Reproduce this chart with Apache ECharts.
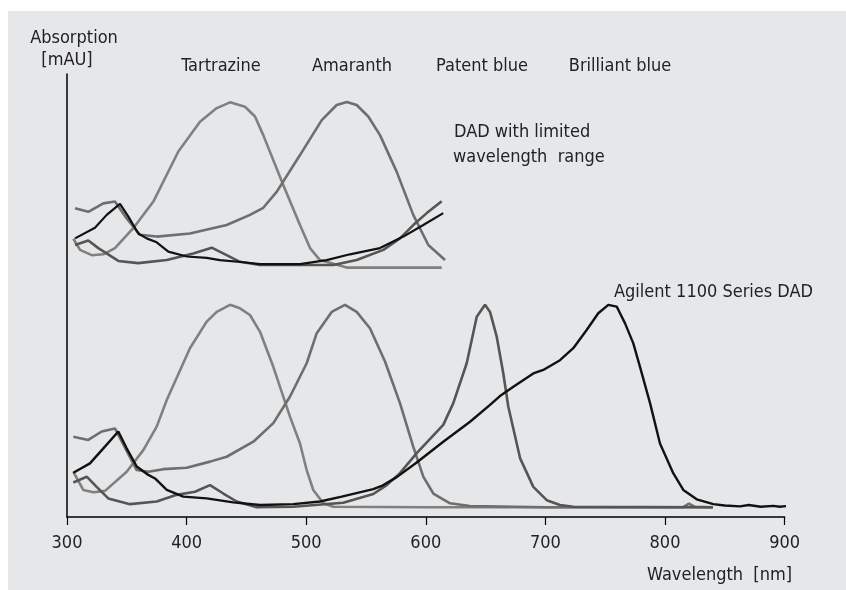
<!DOCTYPE html>
<html>
<head>
<meta charset="utf-8">
<script src="https://cdn.jsdelivr.net/npm/echarts@6/dist/echarts.min.js"></script>
<style>html,body{margin:0;padding:0;background:#fff}#c{width:846px;height:590px}</style>
</head>
<body>
<div id="c"></div>
<script>
// X axis tick labels (nm)
const xTicks = [300, 400, 500, 600, 700, 800, 900];
const dyeNames = ['Tartrazine', 'Amaranth', 'Patent blue', 'Brilliant blue'];

// Agilent 1100 Series DAD (full range) — [wavelength nm, absorption a.u.]
const tartrazineFull = [[305.3,10.2],[313.6,6.1],[322.0,5.6],[331.8,5.9],[349.9,10.2],[363.8,15.1],[375.0,20.4],[383.4,26.4],[402.8,38.1],[416.8,44.1],[425.2,46.3],[436.3,47.9],[444.6,47.1],[453.0,45.6],[461.4,41.8],[472.5,33.9],[486.5,22.6],[494.8,16.6],[500.4,10.6],[505.9,6.1],[514.3,3.1],[522.7,2.3],[600,2.2],[700,2.2],[840,2.2]];
const amaranthFull = [[305.3,18.1],[317.8,17.4],[329.0,19.3],[340.1,20.0],[358.3,10.6],[368.0,10.2],[380.5,10.8],[400.1,11.1],[419.6,12.5],[433.5,13.6],[455.8,17.0],[472.5,21.2],[486.5,27.2],[500.4,34.7],[508.8,41.5],[521.3,46.3],[532.4,47.9],[542.2,46.3],[553.3,42.6],[565.9,35.1],[578.4,25.7],[589.5,15.9],[597.9,9.1],[606.3,5.3],[620.2,3.1],[636.9,2.5],[700,2.2],[815,2.2],[820,3.0],[825,2.3],[840,2.2]];
const patentFull = [[305.3,7.8],[316.5,9.1],[324.8,6.8],[334.5,4.2],[352.7,2.9],[375.0,3.5],[391.7,5.0],[407.0,5.7],[419.6,7.2],[430.7,5.3],[441.9,3.5],[458.6,2.2],[489.2,2.3],[531.0,3.2],[556.1,5.2],[567.3,7.2],[578.4,9.9],[592.4,14.4],[614.6,20.8],[623.0,25.7],[634.2,34.7],[642.6,45.2],[649.5,47.9],[653.7,46.3],[659.3,40.7],[664.8,32.4],[669.0,24.9],[678.8,13.3],[689.9,6.8],[701.1,3.8],[712.2,2.7],[723.3,2.3],[840,2.2]];
const brilliantFull = [[305.3,10.0],[319.2,12.1],[330.4,15.5],[342.9,19.3],[349.9,15.5],[358.3,11.4],[368.0,9.5],[373.6,8.7],[383.4,6.1],[397.2,4.6],[416.8,4.2],[439.0,3.3],[461.4,2.7],[489.2,2.9],[511.5,3.5],[529.7,4.6],[556.1,6.3],[563.1,7.0],[575.7,9.0],[592.4,12.3],[614.6,17.0],[637.0,21.5],[653.7,25.3],[662.0,27.3],[673.2,29.4],[689.9,32.4],[698.2,33.2],[712.2,35.4],[723.3,38.1],[734.5,42.2],[744.2,46.0],[752.6,47.9],[759.6,47.5],[766.6,43.7],[773.5,39.2],[779.1,33.9],[787.5,25.7],[795.8,16.6],[806.9,9.9],[815.3,6.1],[826.5,4.0],[840.4,2.9],[850,2.6],[862.7,2.4],[870,2.7],[880,2.3],[890.6,2.5],[896,2.3],[902.8,2.5]];

// DAD with limited wavelength range (drawn offset above)
const tartrazineLim = [[305.3,62.8],[310.9,60.3],[320.7,59.1],[330.4,59.3],[340.1,60.7],[355.4,65.2],[372.2,71.2],[393.1,82.5],[411.2,89.2],[425.2,92.3],[436.3,93.6],[448.8,92.6],[457.2,90.4],[464.1,86.2],[480.9,74.9],[494.8,65.9],[503.2,60.7],[511.5,58.0],[533.9,56.3],[613.3,56.3]];
const amaranthLim = [[306.7,69.7],[317.8,68.9],[330.4,70.8],[340.1,71.2],[349.9,67.4],[361.0,63.7],[375.0,63.3],[402.8,64.0],[433.5,65.9],[453.0,68.2],[464.1,69.8],[475.3,73.4],[494.8,81.7],[513.0,89.6],[525.5,93.0],[533.9,93.7],[542.2,93.0],[551.9,90.4],[561.7,86.2],[575.7,77.9],[589.5,68.2],[602.1,61.4],[616.1,58.0]];
const patentLim = [[306.7,61.4],[317.8,62.4],[326.2,60.7],[342.9,57.8],[359.6,57.3],[383.4,58.0],[405.6,59.5],[421.0,60.8],[433.5,59.1],[444.6,57.6],[461.4,56.9],[494.8,56.9],[522.7,56.9],[542.2,58.0],[564.5,60.3],[578.4,62.9],[589.5,65.9],[600.8,68.6],[613.3,71.3]];
const brilliantLim = [[306.7,62.9],[323.4,65.3],[333.2,68.2],[344.3,70.7],[351.3,67.8],[359.6,64.0],[366.6,62.9],[375.0,62.0],[384.7,59.9],[400.1,58.8],[416.8,58.5],[427.9,58.0],[447.4,57.5],[461.4,57.1],[475.3,57.1],[494.8,57.1],[517.1,58.0],[536.6,59.3],[561.7,60.7],[581.2,63.3],[597.9,65.9],[614.6,68.6]];

const FONT = '"Liberation Sans Narrow", "DejaVu Sans Condensed", "Liberation Sans", sans-serif';
const FS = 18;
const TXT = '#222';
const colTar = '#808080', colAma = '#6e6e6e', colPat = '#555555', colBri = '#111111';

function line(name, data, color, w) {
  return { name, type: 'line', data, symbol: 'none', smooth: false, clip: false,
    lineStyle: { color, width: w }, silent: true, animation: false };
}
function label(text, x, y, align) {
  return { type: 'text', x, y, style: { text, font: FS + 'px ' + FONT, fill: TXT, align: align || 'center', verticalAlign: 'middle' } };
}

const chart = echarts.init(document.getElementById('c'), null, { renderer: 'canvas' });
chart.setOption({
  backgroundColor: '#ffffff',
  animation: false,
  grid: { left: 67, top: 74, right: 61.4, bottom: 73 },
  xAxis: {
    type: 'value', min: 300, max: 900, interval: 100,
    axisLine: { show: true, lineStyle: { color: '#000', width: 1.5 } },
    axisTick: { show: true, length: 8, lineStyle: { color: '#000', width: 1.2 } },
    axisLabel: { show: true, margin: 17, fontFamily: FONT, fontSize: FS, color: TXT,
      customValues: xTicks },
    splitLine: { show: false }
  },
  yAxis: {
    type: 'value', min: 0, max: 100,
    axisLine: { show: true, lineStyle: { color: '#000', width: 1.5 } },
    axisTick: { show: false }, axisLabel: { show: false }, splitLine: { show: false }
  },
  graphic: [
    { type: 'rect', z: -10, silent: true, shape: { x: 8, y: 11, width: 838, height: 579 }, style: { fill: '#e6e7e9' } },
    label('Absorption', 74, 38),
    label('[mAU]', 67, 60),
    label(dyeNames[0], 221, 66),
    label(dyeNames[1], 352, 66),
    label(dyeNames[2], 482, 66),
    label(dyeNames[3], 620, 66),
    label('DAD with limited', 454, 132, 'left'),
    label('wavelength  range', 453, 157, 'left'),
    label('Agilent 1100 Series DAD', 614, 292, 'left'),
    label('Wavelength  [nm]', 792, 575, 'right')
  ],
  series: [
    line('Tartrazine (limited)', tartrazineLim, colTar, 2.6),
    line('Amaranth (limited)', amaranthLim, colAma, 2.6),
    line('Patent blue (limited)', patentLim, colPat, 2.6),
    line('Brilliant blue (limited)', brilliantLim, colBri, 2.2),
    line('Tartrazine', tartrazineFull, colTar, 2.6),
    line('Amaranth', amaranthFull, colAma, 2.6),
    line('Patent blue', patentFull, colPat, 2.6),
    line('Brilliant blue', brilliantFull, colBri, 2.4)
  ]
});
</script>
</body>
</html>
